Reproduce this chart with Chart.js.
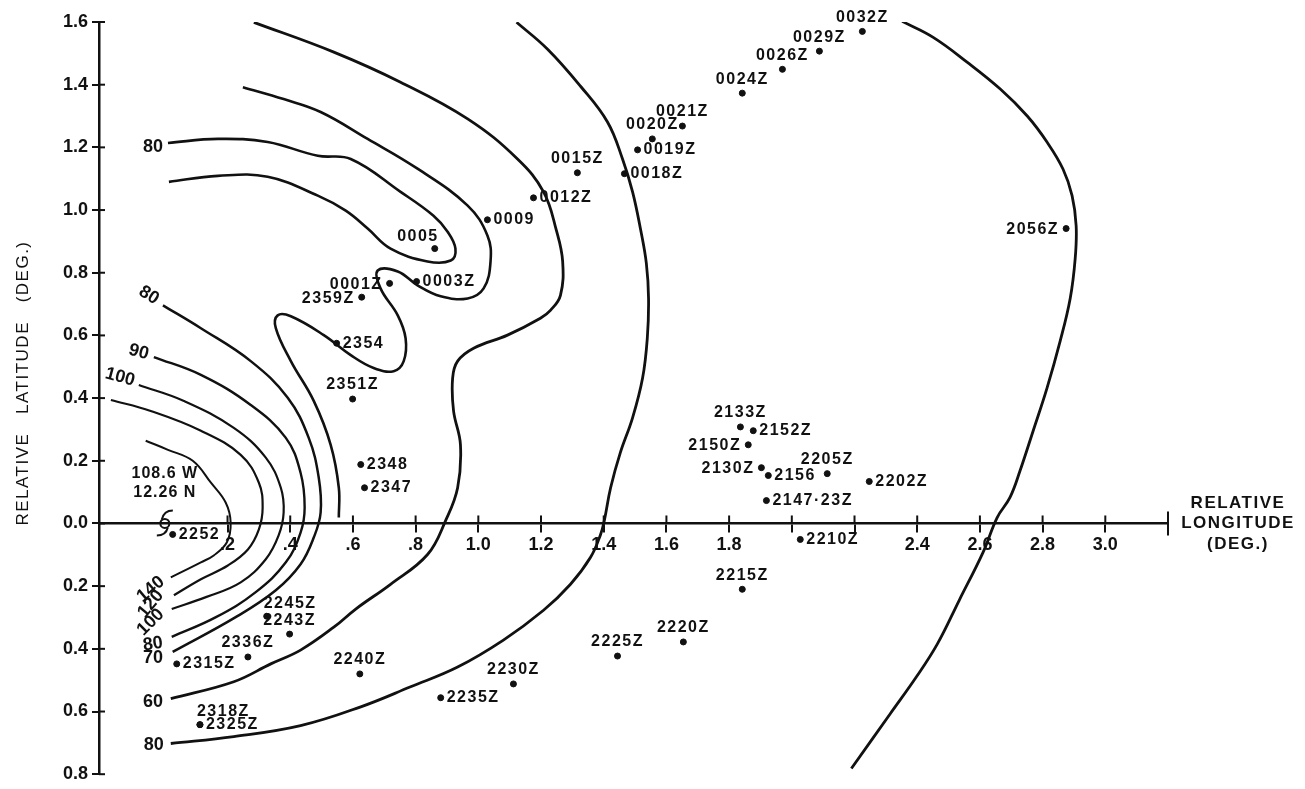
<!DOCTYPE html>
<html>
<head>
<meta charset="utf-8">
<script src="https://cdn.jsdelivr.net/npm/chart.js@4.4.1/dist/chart.umd.min.js"></script>
<style>
  body { margin: 0; background: #fff; }
</style>
</head>
<body>
<canvas id="track" width="1305" height="789"></canvas>
<script>
// fixes, relative to the 108.6 W / 12.26 N origin
const fixNames = ["0032Z", "0029Z", "0026Z", "0024Z", "0021Z", "0020Z", "0019Z", "0018Z", "0015Z", "0012Z",
  "0009", "0005", "0003Z", "0001Z", "2359Z", "2354", "2351Z", "2348", "2347", "2252",
  "2245Z", "2243Z", "2336Z", "2315Z", "2318Z", "2325Z", "2240Z", "2235Z", "2230Z", "2225Z",
  "2220Z", "2215Z", "2210Z", "2133Z", "2152Z", "2150Z", "2130Z", "2156", "2205Z", "2202Z",
  "2147·23Z", "2056Z"];
const fixLon = [2.225, 2.088, 1.970, 1.842, 1.651, 1.555, 1.508, 1.466, 1.316, 1.176,
  1.029, 0.861, 0.803, 0.717, 0.628, 0.548, 0.599, 0.625, 0.637, 0.025,
  0.325, 0.398, 0.265, 0.038, 0.112, 0.112, 0.622, 0.880, 1.112, 1.444,
  1.654, 1.842, 2.027, 1.836, 1.877, 1.861, 1.903, 1.925, 2.113, 2.247,
  1.919, 2.875];
const fixLat = [1.570, 1.507, 1.449, 1.373, 1.268, 1.227, 1.192, 1.116, 1.119, 1.039,
  0.969, 0.877, 0.772, 0.766, 0.722, 0.575, 0.397, 0.188, 0.114, -0.035,
  -0.296, -0.353, -0.426, -0.448, -0.642, -0.642, -0.480, -0.556, -0.512, -0.423,
  -0.378, -0.210, -0.051, 0.308, 0.296, 0.251, 0.178, 0.153, 0.159, 0.134,
  0.073, 0.941];
// where the time label sits: r right, l left, a above, ar / al above and shifted
const fixLabelSide = ["a", "a", "a", "a", "a", "a", "r", "r", "a", "r",
  "r", "al", "r", "l", "l", "r", "a", "r", "r", "r",
  "ar", "a", "a", "r", "ar", "r", "a", "r", "a", "a",
  "a", "a", "r", "a", "r", "l", "l", "r", "a", "r",
  "r", "l"];

// isolines as [lon, lat]
const iso140 = [[-0.061, 0.264], [0.010, 0.235], [0.089, 0.200], [0.147, 0.130], [0.194, 0.067], [0.210, 0.003],
  [0.198, -0.060], [0.156, -0.102], [0.115, -0.124], [0.019, -0.172]];
const iso120 = [[-0.172, 0.394], [-0.045, 0.359], [0.115, 0.296], [0.242, 0.219], [0.300, 0.130], [0.312, 0.051],
  [0.300, -0.019], [0.265, -0.083], [0.201, -0.134], [0.115, -0.178], [0.029, -0.229]];
const iso100 = [[-0.083, 0.442], [0.061, 0.391], [0.220, 0.305], [0.322, 0.210], [0.370, 0.114], [0.379, 0.035],
  [0.363, -0.038], [0.322, -0.114], [0.242, -0.188], [0.131, -0.235], [0.022, -0.273]];
const iso80 = [[-0.035, 0.531], [0.115, 0.474], [0.274, 0.378], [0.386, 0.273], [0.433, 0.162], [0.446, 0.051],
  [0.433, -0.029], [0.386, -0.124], [0.290, -0.219], [0.163, -0.299], [0.022, -0.362]];
const iso70 = [[-0.006, 0.696], [0.115, 0.623], [0.274, 0.518], [0.392, 0.401], [0.459, 0.273], [0.491, 0.146],
  [0.497, 0.035], [0.475, -0.045], [0.433, -0.130], [0.354, -0.213], [0.226, -0.299], [0.025, -0.410]];
const isoLoop = [[0.249, 1.392], [0.379, 1.354], [0.497, 1.313], [0.647, 1.227], [0.806, 1.132], [0.966, 1.014],
  [1.029, 0.919], [1.039, 0.836], [1.017, 0.750], [0.966, 0.718], [0.880, 0.725], [0.806, 0.760],
  [0.743, 0.804], [0.679, 0.807], [0.688, 0.750], [0.743, 0.664], [0.768, 0.591], [0.762, 0.518],
  [0.730, 0.486], [0.666, 0.496], [0.593, 0.537], [0.507, 0.601], [0.402, 0.661], [0.360, 0.664],
  [0.354, 0.623], [0.402, 0.518], [0.475, 0.391], [0.529, 0.251], [0.555, 0.114], [0.555, 0.019]];
const isoTongue = [[0.010, 1.214], [0.169, 1.227], [0.328, 1.217], [0.488, 1.173], [0.593, 1.163], [0.752, 1.058],
  [0.857, 0.982], [0.902, 0.931], [0.927, 0.877], [0.912, 0.839], [0.838, 0.836], [0.720, 0.877],
  [0.647, 0.941], [0.577, 0.998], [0.488, 1.046], [0.328, 1.106], [0.169, 1.109], [0.013, 1.090]];
const iso60 = [[0.019, -0.559], [0.220, -0.505], [0.338, -0.448], [0.433, -0.404], [0.539, -0.331], [0.609, -0.273],
  [0.720, -0.194], [0.838, -0.099], [0.896, 0.010], [0.934, 0.114], [0.943, 0.251], [0.921, 0.359],
  [0.918, 0.464], [0.934, 0.518], [0.985, 0.559], [1.093, 0.601], [1.198, 0.655], [1.230, 0.680],
  [1.262, 0.728], [1.269, 0.836], [1.249, 0.935], [1.208, 1.058], [1.125, 1.163], [0.966, 1.291],
  [0.752, 1.408], [0.539, 1.504], [0.284, 1.599]];
const iso50 = [[0.019, -0.702], [0.220, -0.680], [0.433, -0.645], [0.625, -0.585], [0.784, -0.521], [0.934, -0.458],
  [1.080, -0.372], [1.208, -0.277], [1.294, -0.194], [1.358, -0.108], [1.390, -0.035], [1.402, 0.010],
  [1.422, 0.114], [1.453, 0.226], [1.492, 0.337], [1.524, 0.464], [1.539, 0.591], [1.543, 0.718],
  [1.536, 0.830], [1.517, 0.941], [1.492, 1.058], [1.460, 1.163], [1.412, 1.281], [1.326, 1.395],
  [1.221, 1.513], [1.122, 1.599]];
const arcEast = [[2.352, 1.602], [2.451, 1.551], [2.559, 1.472], [2.665, 1.386], [2.751, 1.300], [2.814, 1.217],
  [2.865, 1.131], [2.894, 1.046], [2.907, 0.950], [2.904, 0.846], [2.888, 0.718], [2.856, 0.582],
  [2.814, 0.432], [2.770, 0.296], [2.728, 0.168], [2.696, 0.083], [2.655, 0.019], [2.610, -0.092],
  [2.534, -0.245], [2.464, -0.385], [2.397, -0.490], [2.314, -0.607], [2.190, -0.782]];

// isoline value labels
const isoText = ["80", "80", "90", "100", "140", "120", "100", "80", "70", "60", "80"];
const isoTextLon = [-0.038, -0.051, -0.083, -0.143, -0.045, -0.045, -0.045, -0.038, -0.038, -0.038, -0.035];
const isoTextLat = [1.202, 0.728, 0.547, 0.467, -0.210, -0.257, -0.315, -0.385, -0.429, -0.569, -0.706];
const isoTextTurn = [0, 32, 15, 15, -40, -50, -45, -8, 0, 0, 0];

const xTickValues = [0.2, 0.4, 0.6, 0.8, 1.0, 1.2, 1.4, 1.6, 1.8, 2.0, 2.2, 2.4, 2.6, 2.8, 3.0, 3.2];
const xTickLabels = [".2", ".4", ".6", ".8", "1.0", "1.2", "1.4", "1.6", "1.8", "", "", "2.4", "2.6", "2.8", "3.0", ""];

const INK = "#111";
const FONT = "Liberation Sans";

function isoLine(pts, w) {
  return {
    type: "scatter",
    data: pts.map(p => ({ x: p[0], y: p[1] })),
    showLine: true,
    tension: 0.4,
    borderColor: INK,
    borderWidth: w,
    pointRadius: 0
  };
}

const labelsPlugin = {
  id: "labels",
  afterDatasetsDraw(chart) {
    const ctx = chart.ctx;
    const xs = chart.scales.x, ys = chart.scales.y;
    ctx.save();
    ctx.fillStyle = INK;
    ctx.strokeStyle = INK;

    // time labels
    ctx.font = "bold 16px '" + FONT + "'";
    ctx.letterSpacing = "1.5px";
    ctx.textBaseline = "middle";
    fixNames.forEach((name, i) => {
      const px = xs.getPixelForValue(fixLon[i]);
      const py = ys.getPixelForValue(fixLat[i]);
      const side = fixLabelSide[i];
      if (side === "r") { ctx.textAlign = "left"; ctx.fillText(name, px + 6, py); }
      else if (side === "l") { ctx.textAlign = "right"; ctx.fillText(name, px - 7, py + 1); }
      else if (side === "a") { ctx.textAlign = "center"; ctx.fillText(name, px, py - 14); }
      else if (side === "ar") { ctx.textAlign = "left"; ctx.fillText(name, px - 3, py - 13); }
      else { ctx.textAlign = "right"; ctx.fillText(name, px + 4, py - 12); }
    });

    // isoline values
    ctx.font = "bold 18px '" + FONT + "'";
    ctx.letterSpacing = "0px";
    ctx.textAlign = "center";
    isoText.forEach((t, i) => {
      ctx.save();
      ctx.translate(xs.getPixelForValue(isoTextLon[i]), ys.getPixelForValue(isoTextLat[i]));
      ctx.rotate(isoTextTurn[i] * Math.PI / 180);
      ctx.fillText(t, 0, 0);
      ctx.restore();
    });

    // origin position
    ctx.font = "bold 16px '" + FONT + "'";
    ctx.letterSpacing = "1px";
    const ox = xs.getPixelForValue(0), oy = ys.getPixelForValue(0);
    ctx.fillText("108.6 W", ox, oy - 50);
    ctx.fillText("12.26 N", ox, oy - 31);

    // storm symbol at the origin
    ctx.lineWidth = 2;
    ctx.beginPath();
    ctx.arc(ox, oy, 4.5, 0, Math.PI * 2);
    ctx.stroke();
    ctx.beginPath();
    ctx.moveTo(ox - 3, oy - 4);
    ctx.quadraticCurveTo(ox - 1, oy - 13, ox + 8, oy - 13);
    ctx.moveTo(ox + 3, oy + 4);
    ctx.quadraticCurveTo(ox + 1, oy + 12, ox - 8, oy + 12);
    ctx.stroke();
    ctx.restore();
  },
  afterDraw(chart) {
    const ctx = chart.ctx;
    const xs = chart.scales.x, ys = chart.scales.y;
    const ax = chart.chartArea.left, ay = ys.getPixelForValue(0);
    ctx.save();
    ctx.strokeStyle = INK;
    ctx.lineWidth = 2;
    // tick stubs on the inner side of both axes
    ys.ticks.forEach(t => {
      const py = ys.getPixelForValue(t.value);
      ctx.beginPath(); ctx.moveTo(ax, py); ctx.lineTo(ax + 6, py); ctx.stroke();
    });
    xs.ticks.forEach(t => {
      const px = xs.getPixelForValue(t.value);
      const up = t.value > 3.1 ? 12 : 8;
      ctx.beginPath(); ctx.moveTo(px, ay); ctx.lineTo(px, ay - up); ctx.stroke();
      if (t.value > 3.1) { ctx.beginPath(); ctx.moveTo(px, ay); ctx.lineTo(px, ay + 12); ctx.stroke(); }
    });

    // axis titles
    ctx.fillStyle = INK;
    ctx.textAlign = "center";
    ctx.textBaseline = "middle";
    ctx.font = "17px '" + FONT + "'";
    ctx.letterSpacing = "1.5px";
    ctx.save();
    ctx.translate(23, 383);
    ctx.rotate(-Math.PI / 2);
    ctx.fillText("RELATIVE   LATITUDE   (DEG.)", 0, 0);
    ctx.restore();
    ctx.font = "bold 17px '" + FONT + "'";
    ctx.letterSpacing = "1.5px";
    const tx = xs.right + 70;
    ctx.fillText("RELATIVE", tx, ay - 20);
    ctx.fillText("LONGITUDE", tx, ay);
    ctx.fillText("(DEG.)", tx, ay + 21);
    ctx.restore();
  }
};

const ctx = document.getElementById("track").getContext("2d");
const chart = new Chart(ctx, {
  type: "scatter",
  data: {
    datasets: [
      isoLine(iso140, 2),
      isoLine(iso120, 2.2),
      isoLine(iso100, 2.2),
      isoLine(iso80, 2.4),
      isoLine(iso70, 2.5),
      isoLine(isoLoop, 2.6),
      isoLine(isoTongue, 2.6),
      isoLine(iso60, 2.8),
      isoLine(iso50, 2.8),
      isoLine(arcEast, 2.8),
      {
        type: "scatter",
        data: fixLon.map((v, i) => ({ x: v, y: fixLat[i] })),
        backgroundColor: INK,
        borderColor: INK,
        pointRadius: 3,
        pointHoverRadius: 3
      }
    ]
  },
  options: {
    responsive: false,
    animation: false,
    devicePixelRatio: 1,
    layout: { padding: { left: 0, right: 137, top: 22, bottom: 11 } },
    plugins: { legend: { display: false }, tooltip: { enabled: false } },
    scales: {
      x: {
        type: "linear",
        min: -0.21,
        max: 3.2,
        position: { y: 0 },
        afterBuildTicks: scale => { scale.ticks = xTickValues.map(v => ({ value: v })); },
        ticks: {
          autoSkip: false,
          maxRotation: 0,
          padding: 3,
          color: INK,
          font: { family: FONT, size: 18, weight: "bold" },
          callback: (v, i) => xTickLabels[i]
        },
        grid: { drawOnChartArea: false, drawTicks: true, tickLength: 8, color: INK, lineWidth: 2 },
        border: { display: true, color: INK, width: 2.5 }
      },
      y: {
        type: "linear",
        min: -0.8,
        max: 1.6,
        position: "left",
        afterFit: scale => { scale.width = 99; },
        ticks: {
          stepSize: 0.2,
          padding: 4,
          color: INK,
          font: { family: FONT, size: 18, weight: "bold" },
          callback: v => Math.abs(v).toFixed(1)
        },
        grid: { drawOnChartArea: false, drawTicks: true, tickLength: 7, color: INK, lineWidth: 2 },
        border: { display: true, color: INK, width: 2.5 }
      }
    }
  },
  plugins: [labelsPlugin]
});
</script>
</body>
</html>
